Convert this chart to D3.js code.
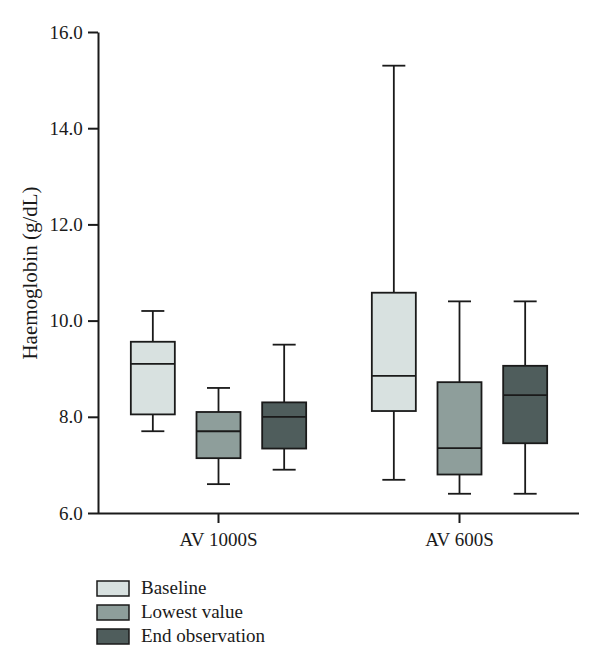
<!DOCTYPE html>
<html><head><meta charset="utf-8">
<script src="https://cdn.jsdelivr.net/npm/d3@7"></script>
<style>body{margin:0;background:#fff}</style>
</head><body>
<svg id="chart" width="600" height="670"></svg>
<script>
const categories = ["AV 1000S", "AV 600S"];
const seriesNames = ["Baseline", "Lowest value", "End observation"];
const seriesColors = ["#d8e1e0", "#8e9e9b", "#4f5d5c"];
// [min, q1, median, q3, max] per category for each series
const baseline = [[7.7, 8.05, 9.1, 9.56, 10.2], [6.69, 8.12, 8.85, 10.58, 15.3]];
const lowest   = [[6.6, 7.14, 7.7, 8.1, 8.6],   [6.4, 6.8, 7.35, 8.72, 10.4]];
const endObs   = [[6.9, 7.34, 8.0, 8.3, 9.5],   [6.4, 7.45, 8.45, 9.06, 10.4]];
const yTicks = [6, 8, 10, 12, 14, 16];
const yLabel = "Haemoglobin (g/dL)";

const series = [baseline, lowest, endObs];
const svg = d3.select("#chart");
const font = "'Liberation Serif', 'DejaVu Serif', serif";
const mLeft = 98, mRight = 579, mTop = 32, mBottom = 513;

const y = d3.scaleLinear().domain([6, 16]).range([mBottom, mTop]);
const x = d3.scaleBand().domain(categories).range([mLeft, mRight + 1]);
const inner = d3.scaleBand().domain(seriesNames).range([0, x.bandwidth()]).paddingInner(0.33).paddingOuter(0.5);

const yAxis = svg.append("g").attr("transform", `translate(${mLeft},0)`)
  .call(d3.axisLeft(y).tickValues(yTicks).tickSize(10).tickSizeOuter(0).tickFormat(d3.format(".1f")));
const xAxis = svg.append("g").attr("transform", `translate(0,${mBottom})`)
  .call(d3.axisBottom(x).tickSize(10).tickSizeOuter(0));
xAxis.select(".domain").attr("d", `M${mLeft},0.5H${mRight}`);
[yAxis, xAxis].forEach(g => {
  g.selectAll("path,line").attr("stroke", "#1a1a1a").attr("stroke-width", 2);
  g.selectAll("text").attr("font-family", font).attr("font-size", 19).attr("fill", "#1a1a1a");
});
yAxis.selectAll("text").attr("dx", "-0.12em");
xAxis.selectAll("text").attr("dy", "1.05em");

svg.append("text").attr("transform", `translate(37,273) rotate(-90)`)
  .attr("text-anchor", "middle").attr("font-family", font).attr("font-size", 21).attr("fill", "#1a1a1a").text(yLabel);

const capW = 23;
series.forEach((s, si) => {
  categories.forEach((c, ci) => {
    const [mn, q1, md, q3, mx] = s[ci];
    const x0 = x(c) + inner(seriesNames[si]);
    const w = inner.bandwidth();
    const cx = x0 + w / 2;
    const g = svg.append("g").attr("stroke", "#1a1a1a").attr("stroke-width", 1.8);
    g.append("line").attr("x1", cx).attr("x2", cx).attr("y1", y(mx)).attr("y2", y(q3));
    g.append("line").attr("x1", cx).attr("x2", cx).attr("y1", y(q1)).attr("y2", y(mn));
    g.append("line").attr("x1", cx - capW / 2).attr("x2", cx + capW / 2).attr("y1", y(mx)).attr("y2", y(mx));
    g.append("line").attr("x1", cx - capW / 2).attr("x2", cx + capW / 2).attr("y1", y(mn)).attr("y2", y(mn));
    g.append("rect").attr("x", x0).attr("width", w).attr("y", y(q3)).attr("height", y(q1) - y(q3))
      .attr("fill", seriesColors[si]);
    g.append("line").attr("x1", x0).attr("x2", x0 + w).attr("y1", y(md)).attr("y2", y(md));
  });
});

const legend = svg.append("g");
seriesNames.forEach((n, i) => {
  const ly = 581 + i * 24;
  legend.append("rect").attr("x", 97).attr("y", ly).attr("width", 32).attr("height", 15)
    .attr("fill", seriesColors[i]).attr("stroke", "#1a1a1a").attr("stroke-width", 1.5);
  legend.append("text").attr("x", 141).attr("y", ly + 13).attr("font-family", font).attr("font-size", 19)
    .attr("fill", "#1a1a1a").text(n);
});
</script>
</body></html>
